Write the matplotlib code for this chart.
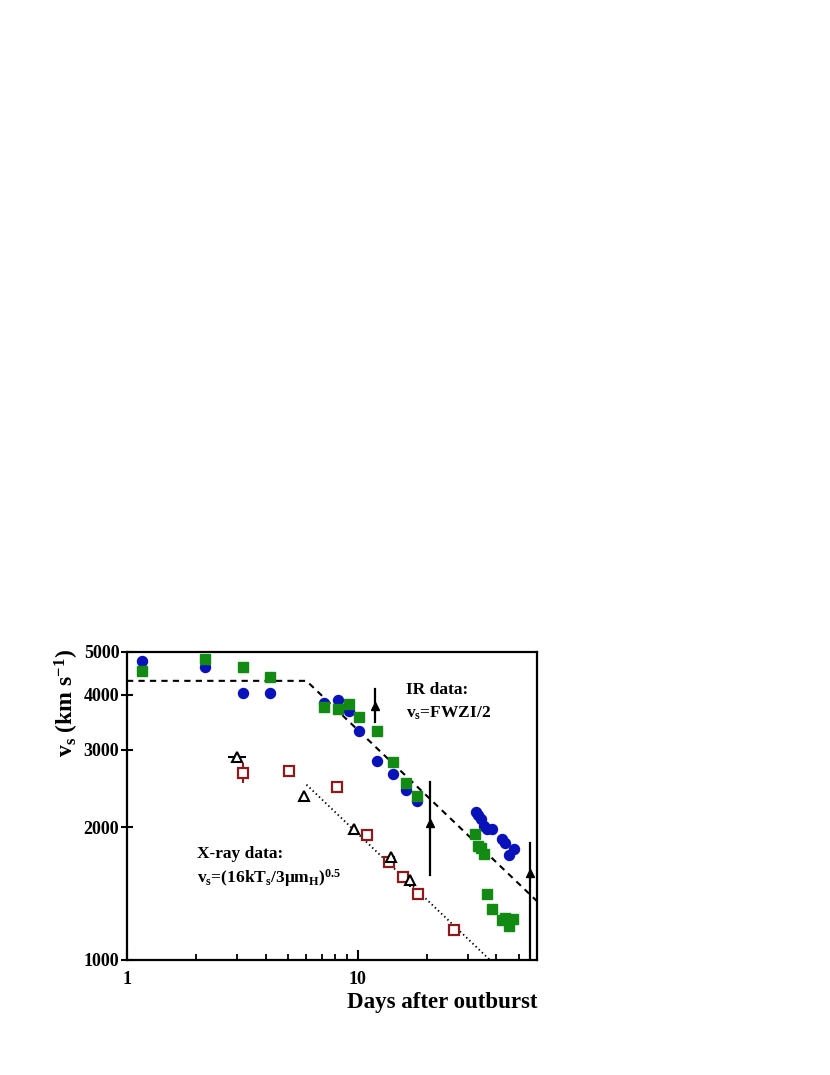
import numpy as np
import matplotlib
matplotlib.use("Agg")
import matplotlib.pyplot as plt
from matplotlib.ticker import FixedLocator, NullLocator, NullFormatter, FixedFormatter

plt.rcParams['font.family'] = ['Liberation Serif', 'DejaVu Serif']
plt.rcParams['mathtext.fontset'] = 'custom'
plt.rcParams['mathtext.rm'] = 'Liberation Serif:bold'
plt.rcParams['mathtext.it'] = 'Liberation Serif:bold'
plt.rcParams['mathtext.bf'] = 'Liberation Serif:bold'

# --- IR data (FWZI/2) ---
ir_blue_t = [1.16, 2.17, 3.17, 4.18, 7.18, 8.21, 9.19, 10.18, 12.18, 14.21, 16.22, 18.15,
             32.6, 33.3, 34.3, 35.3, 36.4, 38.2, 42.3, 43.5, 47.6, 45.3]
ir_blue_v = [4778, 4617, 4029, 4029, 3825, 3891, 3679, 3309, 2833, 2638, 2431, 2299,
             2167, 2134, 2089, 2014, 1982, 1982, 1881, 1842, 1785, 1730]
ir_green_t = [1.16, 2.17, 3.17, 4.18, 7.18, 8.21, 9.19, 10.18, 12.18, 14.21, 16.22, 18.15,
              32.3, 33.3, 34.3, 35.3, 36.4, 38.2, 42.3, 43.5, 47.2, 45.3]
ir_green_v = [4521, 4828, 4617, 4393, 3750, 3717, 3805, 3566, 3309, 2809, 2517, 2359,
              1931, 1814, 1795, 1740, 1412, 1305, 1232, 1246, 1239, 1194]

# lower-limit arrows: x, line bottom, line top, arrow head
lim_t = [11.9, 20.7, 56.1]
lim_lo = [3467, 1559, 950]
lim_hi = [4121, 2538, 1842]
lim_head = [3770, 2051, 1579]

# --- X-ray data ---
tri_t = [3.0, 5.87, 9.66, 13.96, 16.88]
tri_v = [2893, 2359, 1982, 1715, 1519]
tri_xerr_lo = [0.27, 0, 0, 0, 0]
tri_xerr_hi = [0.28, 0, 0, 0, 0]
tri_yerr_lo = [0, 0, 0, 59, 53]
tri_yerr_hi = [0, 0, 0, 29, 40]

sq_t = [3.18, 5.04, 8.18, 11.03, 13.69, 15.7, 18.28, 26.2]
sq_v = [2661, 2680, 2474, 1919, 1666, 1545, 1409, 1170]
sq_yerr_lo = [136, 40, 59, 0, 0, 0, 0, 0]
sq_yerr_hi = [142, 40, 66, 0, 0, 0, 0, 0]

# model lines
dash_t = [1.0, 6.0, 60.0]
dash_v0 = 4300
dot_t = [6.0, 37.5]
dot_v0 = 2500

fig = plt.figure(figsize=(8.3, 10.75), dpi=100)
ax = fig.add_axes([0.153, 0.107, 0.494, 0.2865])

dt = np.array(dash_t)
dv = np.where(dt <= 6, dash_v0, dash_v0 * (dt / 6.0) ** -0.5)
ax.plot(dt, dv, color='black', ls=(0, (3, 2.5)), lw=1.5, zorder=1)
ot = np.array(dot_t)
ax.plot(ot, dot_v0 * (ot / 6.0) ** -0.5, color='black', ls=(0, (0.8, 1.6)), lw=1.3, zorder=1)

ax.plot(ir_blue_t, ir_blue_v, 'o', color='#0812b8', ms=7.2, mec='#0812b8', zorder=3)
ax.plot(ir_green_t, ir_green_v, 's', color='#138a13', ms=6.7, mec='#138a13', zorder=4)

for t, lo, hi, hd in zip(lim_t, lim_lo, lim_hi, lim_head):
    ax.plot([t, t], [lo, hi], color='black', lw=1.6, zorder=2, clip_on=True)
    ax.plot([t], [hd], marker='^', color='black', ms=6, zorder=2)

ax.errorbar(sq_t, sq_v, yerr=[sq_yerr_lo, sq_yerr_hi], fmt='s', ms=7.5, mfc='white',
            mec='#8b1a1a', mew=1.6, ecolor='#8b1a1a', elinewidth=1.5, capsize=0, zorder=5)
ax.errorbar(tri_t, tri_v, xerr=[tri_xerr_lo, tri_xerr_hi], yerr=[tri_yerr_lo, tri_yerr_hi],
            fmt='^', ms=7, mfc='white', mec='black', mew=1.5, ecolor='black',
            elinewidth=1.5, capsize=0, zorder=6)

ax.set_xscale('log')
ax.set_yscale('log')
ax.set_xlim(1, 60)
ax.set_ylim(1000, 5000)

ax.yaxis.set_major_locator(FixedLocator([1000, 2000, 3000, 4000, 5000]))
ax.yaxis.set_major_formatter(FixedFormatter(['1000', '2000', '3000', '4000', '5000']))
ax.yaxis.set_minor_locator(NullLocator())
ax.yaxis.set_minor_formatter(NullFormatter())
ax.xaxis.set_major_locator(FixedLocator([1, 10]))
ax.xaxis.set_major_formatter(FixedFormatter(['1', '10']))
ax.xaxis.set_minor_locator(FixedLocator([2, 3, 4, 5, 6, 7, 8, 9, 20, 30, 40, 50]))
ax.xaxis.set_minor_formatter(NullFormatter())

ax.tick_params(axis='x', which='major', direction='in', length=7, width=1.5,
               labelsize=13, pad=8, top=False)
ax.tick_params(axis='x', which='minor', direction='in', length=4.5, width=1.3, top=False)
ax.tick_params(axis='y', which='major', direction='inout', length=9, width=1.5,
               labelsize=13, pad=1, right=False)
for lab in ax.get_xticklabels() + ax.get_yticklabels():
    lab.set_fontweight('bold')
for s in ax.spines.values():
    s.set_linewidth(1.6)

ax.text(0.68, 0.877, 'IR data:', transform=ax.transAxes, fontsize=12.5, fontweight='bold',
        ha='left', va='center')
ax.text(0.68, 0.80, r'v$_{\mathregular{s}}$=FWZI/2', transform=ax.transAxes, fontsize=12.5,
        fontweight='bold', ha='left', va='center')
ax.text(0.17, 0.345, 'X-ray data:', transform=ax.transAxes, fontsize=12.5, fontweight='bold',
        ha='left', va='center')
ax.text(0.17, 0.265, r'v$_{\mathregular{s}}$=(16kT$_{\mathregular{s}}$/3$\mathregular{\mu}$m$_{\mathregular{H}}$)$^{\mathregular{0.5}}$',
        transform=ax.transAxes, fontsize=12.5, fontweight='bold', ha='left', va='center')

fig.text(0.081, 0.346, r'v$_{\mathregular{s}}$ (km s$^{\mathregular{-1}}$)', rotation=90,
         fontsize=17, fontweight='bold', ha='center', va='center')
fig.text(0.648, 0.067, 'Days after outburst', fontsize=16.5, fontweight='bold',
         ha='right', va='center')

fig.savefig('out.png', dpi=100)
